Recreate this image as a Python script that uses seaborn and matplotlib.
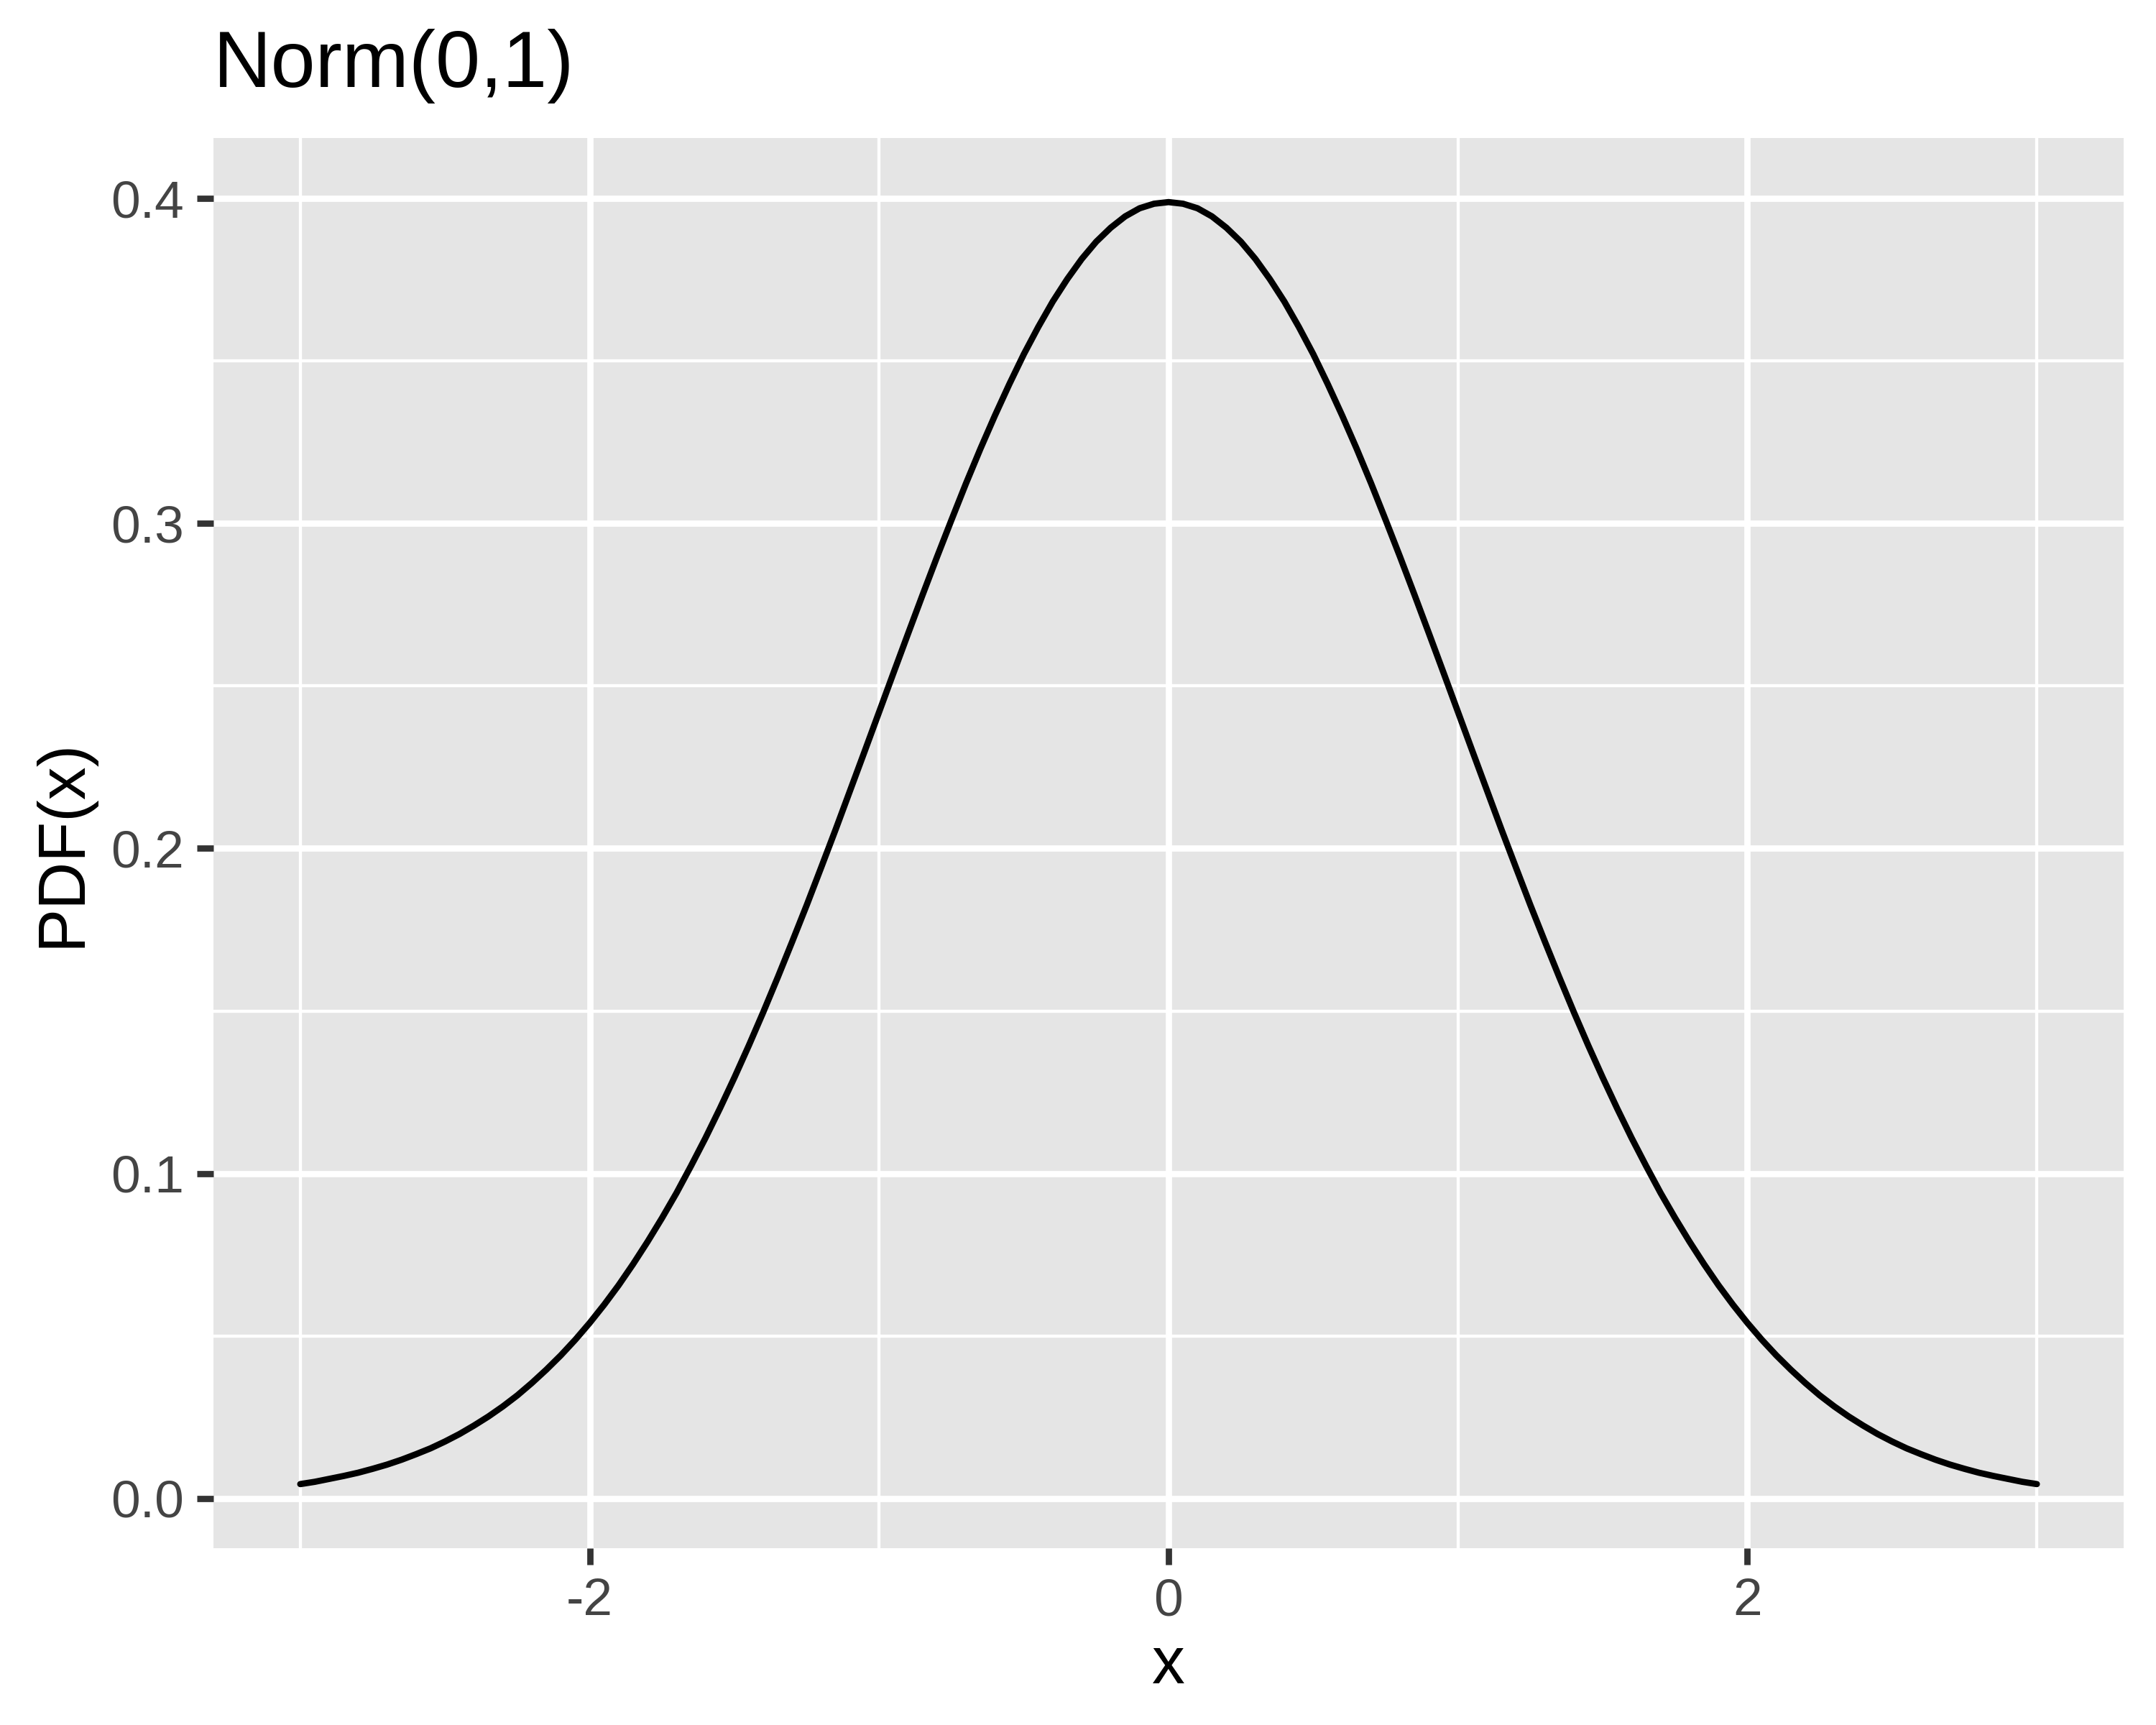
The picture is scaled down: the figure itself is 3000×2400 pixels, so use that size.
import numpy as np
import pandas as pd
import seaborn as sns
import matplotlib.pyplot as plt
from matplotlib.ticker import MultipleLocator

# values (x in steps of 0.05, from -3 to 3)
x_vals = [-3.00, -2.95, -2.90, -2.85, -2.80, -2.75, -2.70, -2.65, -2.60, -2.55,
          -2.50, -2.45, -2.40, -2.35, -2.30, -2.25, -2.20, -2.15, -2.10, -2.05,
          -2.00, -1.95, -1.90, -1.85, -1.80, -1.75, -1.70, -1.65, -1.60, -1.55,
          -1.50, -1.45, -1.40, -1.35, -1.30, -1.25, -1.20, -1.15, -1.10, -1.05,
          -1.00, -0.95, -0.90, -0.85, -0.80, -0.75, -0.70, -0.65, -0.60, -0.55,
          -0.50, -0.45, -0.40, -0.35, -0.30, -0.25, -0.20, -0.15, -0.10, -0.05,
          0.00,
          0.05, 0.10, 0.15, 0.20, 0.25, 0.30, 0.35, 0.40, 0.45, 0.50,
          0.55, 0.60, 0.65, 0.70, 0.75, 0.80, 0.85, 0.90, 0.95, 1.00,
          1.05, 1.10, 1.15, 1.20, 1.25, 1.30, 1.35, 1.40, 1.45, 1.50,
          1.55, 1.60, 1.65, 1.70, 1.75, 1.80, 1.85, 1.90, 1.95, 2.00,
          2.05, 2.10, 2.15, 2.20, 2.25, 2.30, 2.35, 2.40, 2.45, 2.50,
          2.55, 2.60, 2.65, 2.70, 2.75, 2.80, 2.85, 2.90, 2.95, 3.00]
pdf_vals = [0.0044, 0.0051, 0.0060, 0.0069, 0.0079, 0.0091, 0.0104, 0.0119, 0.0136, 0.0154,
            0.0175, 0.0198, 0.0224, 0.0252, 0.0283, 0.0317, 0.0355, 0.0396, 0.0440, 0.0488,
            0.0540, 0.0596, 0.0656, 0.0721, 0.0790, 0.0863, 0.0940, 0.1023, 0.1109, 0.1200,
            0.1295, 0.1394, 0.1497, 0.1604, 0.1714, 0.1826, 0.1942, 0.2059, 0.2179, 0.2299,
            0.2420, 0.2541, 0.2661, 0.2780, 0.2897, 0.3011, 0.3123, 0.3230, 0.3332, 0.3429,
            0.3521, 0.3605, 0.3683, 0.3752, 0.3814, 0.3867, 0.3910, 0.3945, 0.3970, 0.3984,
            0.3989,
            0.3984, 0.3970, 0.3945, 0.3910, 0.3867, 0.3814, 0.3752, 0.3683, 0.3605, 0.3521,
            0.3429, 0.3332, 0.3230, 0.3123, 0.3011, 0.2897, 0.2780, 0.2661, 0.2541, 0.2420,
            0.2299, 0.2179, 0.2059, 0.1942, 0.1826, 0.1714, 0.1604, 0.1497, 0.1394, 0.1295,
            0.1200, 0.1109, 0.1023, 0.0940, 0.0863, 0.0790, 0.0721, 0.0656, 0.0596, 0.0540,
            0.0488, 0.0440, 0.0396, 0.0355, 0.0317, 0.0283, 0.0252, 0.0224, 0.0198, 0.0175,
            0.0154, 0.0136, 0.0119, 0.0104, 0.0091, 0.0079, 0.0069, 0.0060, 0.0051, 0.0044]

x_ticks = [-2, 0, 2]
y_ticks = [0.0, 0.1, 0.2, 0.3, 0.4]
y_tick_labels = ["0.0", "0.1", "0.2", "0.3", "0.4"]

df = pd.DataFrame({"x": x_vals, "pdf": pdf_vals})

sns.set_theme(style="darkgrid", rc={
    "axes.facecolor": "#E5E5E5",
    "grid.color": "white",
})
plt.rcParams["font.family"] = ["Liberation Sans", "DejaVu Sans"]

fig = plt.figure(figsize=(10, 8), dpi=300)
ax = fig.add_axes([0.099, 0.1025, 0.886, 0.8175])

sns.lineplot(data=df, x="x", y="pdf", color="black", linewidth=2.1, ax=ax)

# ggplot-style expansion (5%)
xr = max(x_vals) - min(x_vals)
yr = max(pdf_vals) - min(pdf_vals)
ax.set_xlim(min(x_vals) - 0.05 * xr, max(x_vals) + 0.05 * xr)
ax.set_ylim(min(pdf_vals) - 0.05 * yr, max(pdf_vals) + 0.05 * yr)

ax.set_xticks(x_ticks)
ax.set_xticklabels([str(t) for t in x_ticks])
ax.set_yticks(y_ticks)
ax.set_yticklabels(y_tick_labels)
ax.xaxis.set_minor_locator(MultipleLocator(1))
ax.yaxis.set_minor_locator(MultipleLocator(0.05))

ax.grid(which="major", color="white", linewidth=2.1)
ax.grid(which="minor", color="white", linewidth=1.05)
ax.set_axisbelow(True)
for s in ax.spines.values():
    s.set_visible(False)

ax.tick_params(which="major", direction="out", length=5.5, width=2.1, color="#333333",
               labelsize=17.6, labelcolor="#444444", pad=4.4,
               bottom=True, left=True)
ax.tick_params(which="minor", length=0, bottom=False, left=False)

ax.set_xlabel("x", fontsize=22, color="black", labelpad=3)
ax.set_ylabel("PDF(x)", fontsize=22, color="black", labelpad=5.5)
ax.set_title("Norm(0,1)", fontsize=26.8, color="black", loc="left", pad=17)

fig.savefig("out.png", dpi=300)
